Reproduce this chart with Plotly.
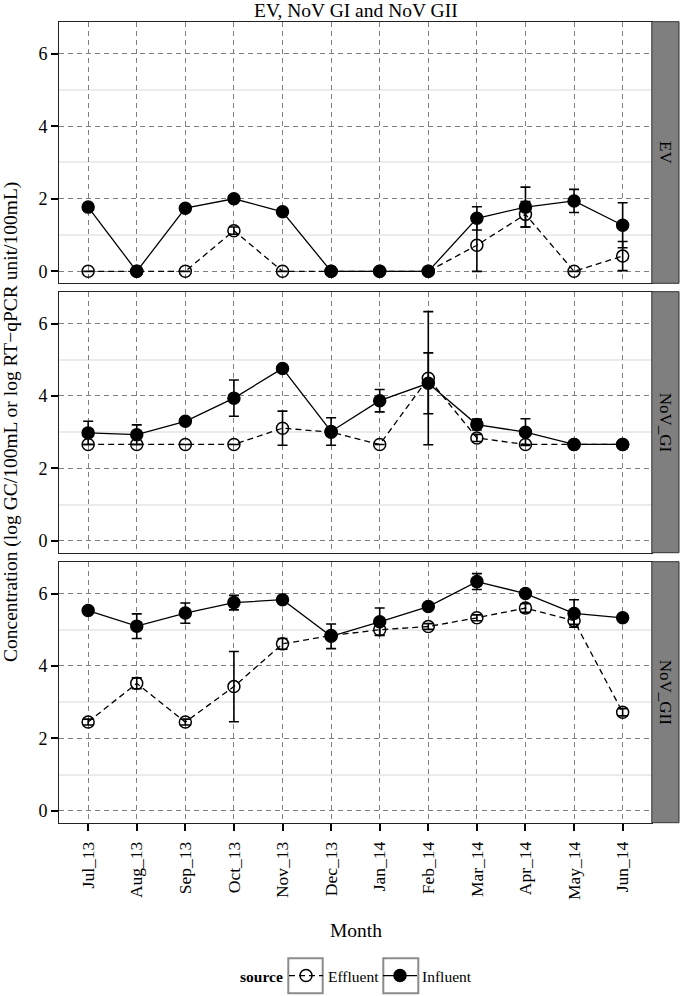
import plotly.graph_objects as go

months = ["Jul_13", "Aug_13", "Sep_13", "Oct_13", "Nov_13", "Dec_13",
          "Jan_14", "Feb_14", "Mar_14", "Apr_14", "May_14", "Jun_14"]
panels = ["EV", "NoV_GI", "NoV_GII"]

# EV
ev_inf = [1.77, 0, 1.74, 2.00, 1.64, 0, 0, 0, 1.46, 1.77, 1.94, 1.27]
ev_inf_sd = [0.05, 0, 0.05, 0.08, 0.07, 0, 0, 0, 0.32, 0.55, 0.32, 0.62]
ev_eff = [0, 0, 0, 1.12, 0, 0, 0, 0, 0.72, 1.57, 0, 0.42]
ev_eff_sd = [0, 0, 0, 0.10, 0, 0, 0, 0, 0.72, 0.35, 0, 0.40]

# NoV GI
gi_inf = [2.98, 2.93, 3.30, 3.94, 4.76, 3.02, 3.87, 4.35, 3.21, 3.00, 2.66, 2.66]
gi_inf_sd = [0.32, 0.27, 0.05, 0.50, 0.05, 0.38, 0.31, 0.84, 0.15, 0.37, 0, 0]
gi_eff = [2.66, 2.66, 2.66, 2.66, 3.11, 3.00, 2.66, 4.49, 2.84, 2.66, 2.66, 2.66]
gi_eff_sd = [0, 0, 0, 0, 0.47, 0.10, 0, 1.84, 0.10, 0, 0, 0]

# NoV GII
gii_inf = [5.53, 5.10, 5.46, 5.75, 5.83, 4.82, 5.22, 5.64, 6.33, 6.00, 5.45, 5.33]
gii_inf_sd = [0.05, 0.34, 0.28, 0.20, 0.05, 0.34, 0.38, 0.05, 0.22, 0.05, 0.38, 0.05]
gii_eff = [2.45, 3.52, 2.45, 3.43, 4.61, 4.84, 5.00, 5.09, 5.33, 5.60, 5.25, 2.72]
gii_eff_sd = [0.08, 0.15, 0.08, 0.97, 0.15, 0.10, 0.15, 0.08, 0.08, 0.12, 0.10, 0.10]

data = [
    (ev_eff, ev_eff_sd, ev_inf, ev_inf_sd),
    (gi_eff, gi_eff_sd, gi_inf, gi_inf_sd),
    (gii_eff, gii_eff_sd, gii_inf, gii_inf_sd),
]

FONT = "Liberation Serif"
W, H = 680, 996
ML, MR, MT, MB = 59, 0, 21, 173
pw = W - ML - MR
ph = H - MT - MB
px_x = lambda p: (p - ML) / pw
px_y = lambda p: (H - MB - p) / ph

# panel pixel extents (top, bottom)
panel_px = [(21.7, 283.3), (291.7, 552.7), (561.7, 822.7)]
xright = px_x(651.8)

fig = go.Figure()

for i, (eff, eff_sd, inf, inf_sd) in enumerate(data):
    ax = "" if i == 0 else str(i + 1)
    for name, y, sd, sym, dash in [("Effluent", eff, eff_sd, "circle-open", "dash"),
                                   ("Influent", inf, inf_sd, "circle", "solid")]:
        fig.add_trace(go.Scatter(
            x=months, y=y, mode="lines+markers", name=name,
            xaxis="x" + ax, yaxis="y" + ax,
            line=dict(color="black", width=1.3, dash="6px,4px" if dash == "dash" else "solid"),
            marker=dict(symbol=sym, size=12, color="black", line=dict(color="black", width=1.5)),
            error_y=dict(type="data", array=sd, visible=True, color="black", thickness=1.6, width=5),
            showlegend=(i == 0), legendgroup=name,
        ))

layout = dict(
    width=W, height=H, margin=dict(l=ML, r=MR, t=MT, b=MB),
    plot_bgcolor="white", paper_bgcolor="white",
    font=dict(family=FONT, size=15, color="black"),
    showlegend=True,
    legend=dict(orientation="h", x=px_x(284), xanchor="left", y=px_y(976), yanchor="middle",
                font=dict(size=15.5), itemwidth=34, entrywidth=45, tracegroupgap=0,
                bgcolor="rgba(0,0,0,0)"),
)

shapes = []
annotations = []
for i, (top, bot) in enumerate(panel_px):
    ax = "" if i == 0 else str(i + 1)
    xa = dict(
        domain=[0, xright], type="category", range=[-0.6, 11.6],
        showgrid=True, gridcolor="#7f7f7f", gridwidth=1, griddash="5px,4px",
        showline=True, linecolor="#222222", linewidth=1, mirror=True,
        zeroline=False, anchor="y" + ax,
        showticklabels=(i == 2), ticks="outside" if i == 2 else "",
        ticklen=7, tickwidth=2, tickcolor="black", tickangle=-90, ticklabelstandoff=4,
        tickfont=dict(size=17.5, family=FONT),
    )
    if i > 0:
        xa["matches"] = "x"
    ya = dict(
        domain=[max(0, px_y(bot)), min(1, px_y(top))], range=[-0.33, 6.88],
        tickvals=[0, 2, 4, 6], ticks="outside", ticklen=7, tickwidth=2, tickcolor="black",
        showgrid=True, gridcolor="#7f7f7f", gridwidth=1, griddash="5px,4px",
        minor=dict(tickvals=[1, 3, 5], showgrid=True, gridcolor="#ebebeb", gridwidth=2,
                   griddash="solid", ticks=""),
        showline=True, linecolor="#222222", linewidth=1, mirror=True,
        zeroline=False, anchor="x" + ax, tickfont=dict(size=18, family=FONT),
    )
    layout["xaxis" + ax] = xa
    layout["yaxis" + ax] = ya
    # strip
    shapes.append(dict(type="rect", xref="paper", yref="paper",
                       x0=xright, x1=px_x(679), y0=px_y(bot), y1=px_y(top),
                       fillcolor="#7f7f7f", line=dict(color="#333333", width=1), layer="above"))
    annotations.append(dict(text=panels[i], xref="paper", yref="paper",
                            x=px_x(665.5), y=px_y((top + bot) / 2), showarrow=False,
                            textangle=90, xanchor="center", yanchor="middle",
                            font=dict(size=17, family=FONT, color="black")))

# legend key boxes
for x0, x1 in [(288.3, 322.7), (383.3, 418.3)]:
    shapes.append(dict(type="rect", xref="paper", yref="paper",
                       x0=px_x(x0), x1=px_x(x1), y0=px_y(993.3), y1=px_y(958.3),
                       line=dict(color="#8c8c8c", width=2), fillcolor="rgba(0,0,0,0)"))

annotations.append(dict(text="<b>source</b>", xref="paper", yref="paper",
                        x=px_x(237.7), y=px_y(976.7), showarrow=False,
                        xanchor="left", yanchor="middle", font=dict(size=15.5, family=FONT)))
annotations.append(dict(text="EV, NoV GI and NoV GII", xref="paper", yref="paper",
                        x=px_x(355.5), y=px_y(10.5), showarrow=False, yanchor="middle",
                        font=dict(size=19.5, family=FONT)))
annotations.append(dict(text="Month", xref="paper", yref="paper",
                        x=px_x(355.5), y=px_y(930), showarrow=False, yanchor="middle",
                        font=dict(size=19.5, family=FONT)))
annotations.append(dict(text="Concentration (log GC/100mL or log RT\u2212qPCR unit/100mL)",
                        xref="paper", yref="paper", x=px_x(11), y=px_y(422), showarrow=False,
                        textangle=-90, xanchor="center", yanchor="middle",
                        font=dict(size=19.5, family=FONT)))

layout["shapes"] = shapes
layout["annotations"] = annotations
fig.update_layout(**layout)
fig.write_html("out.html", config={"displayModeBar": False},
               post_script="document.body.style.margin='0px';")
